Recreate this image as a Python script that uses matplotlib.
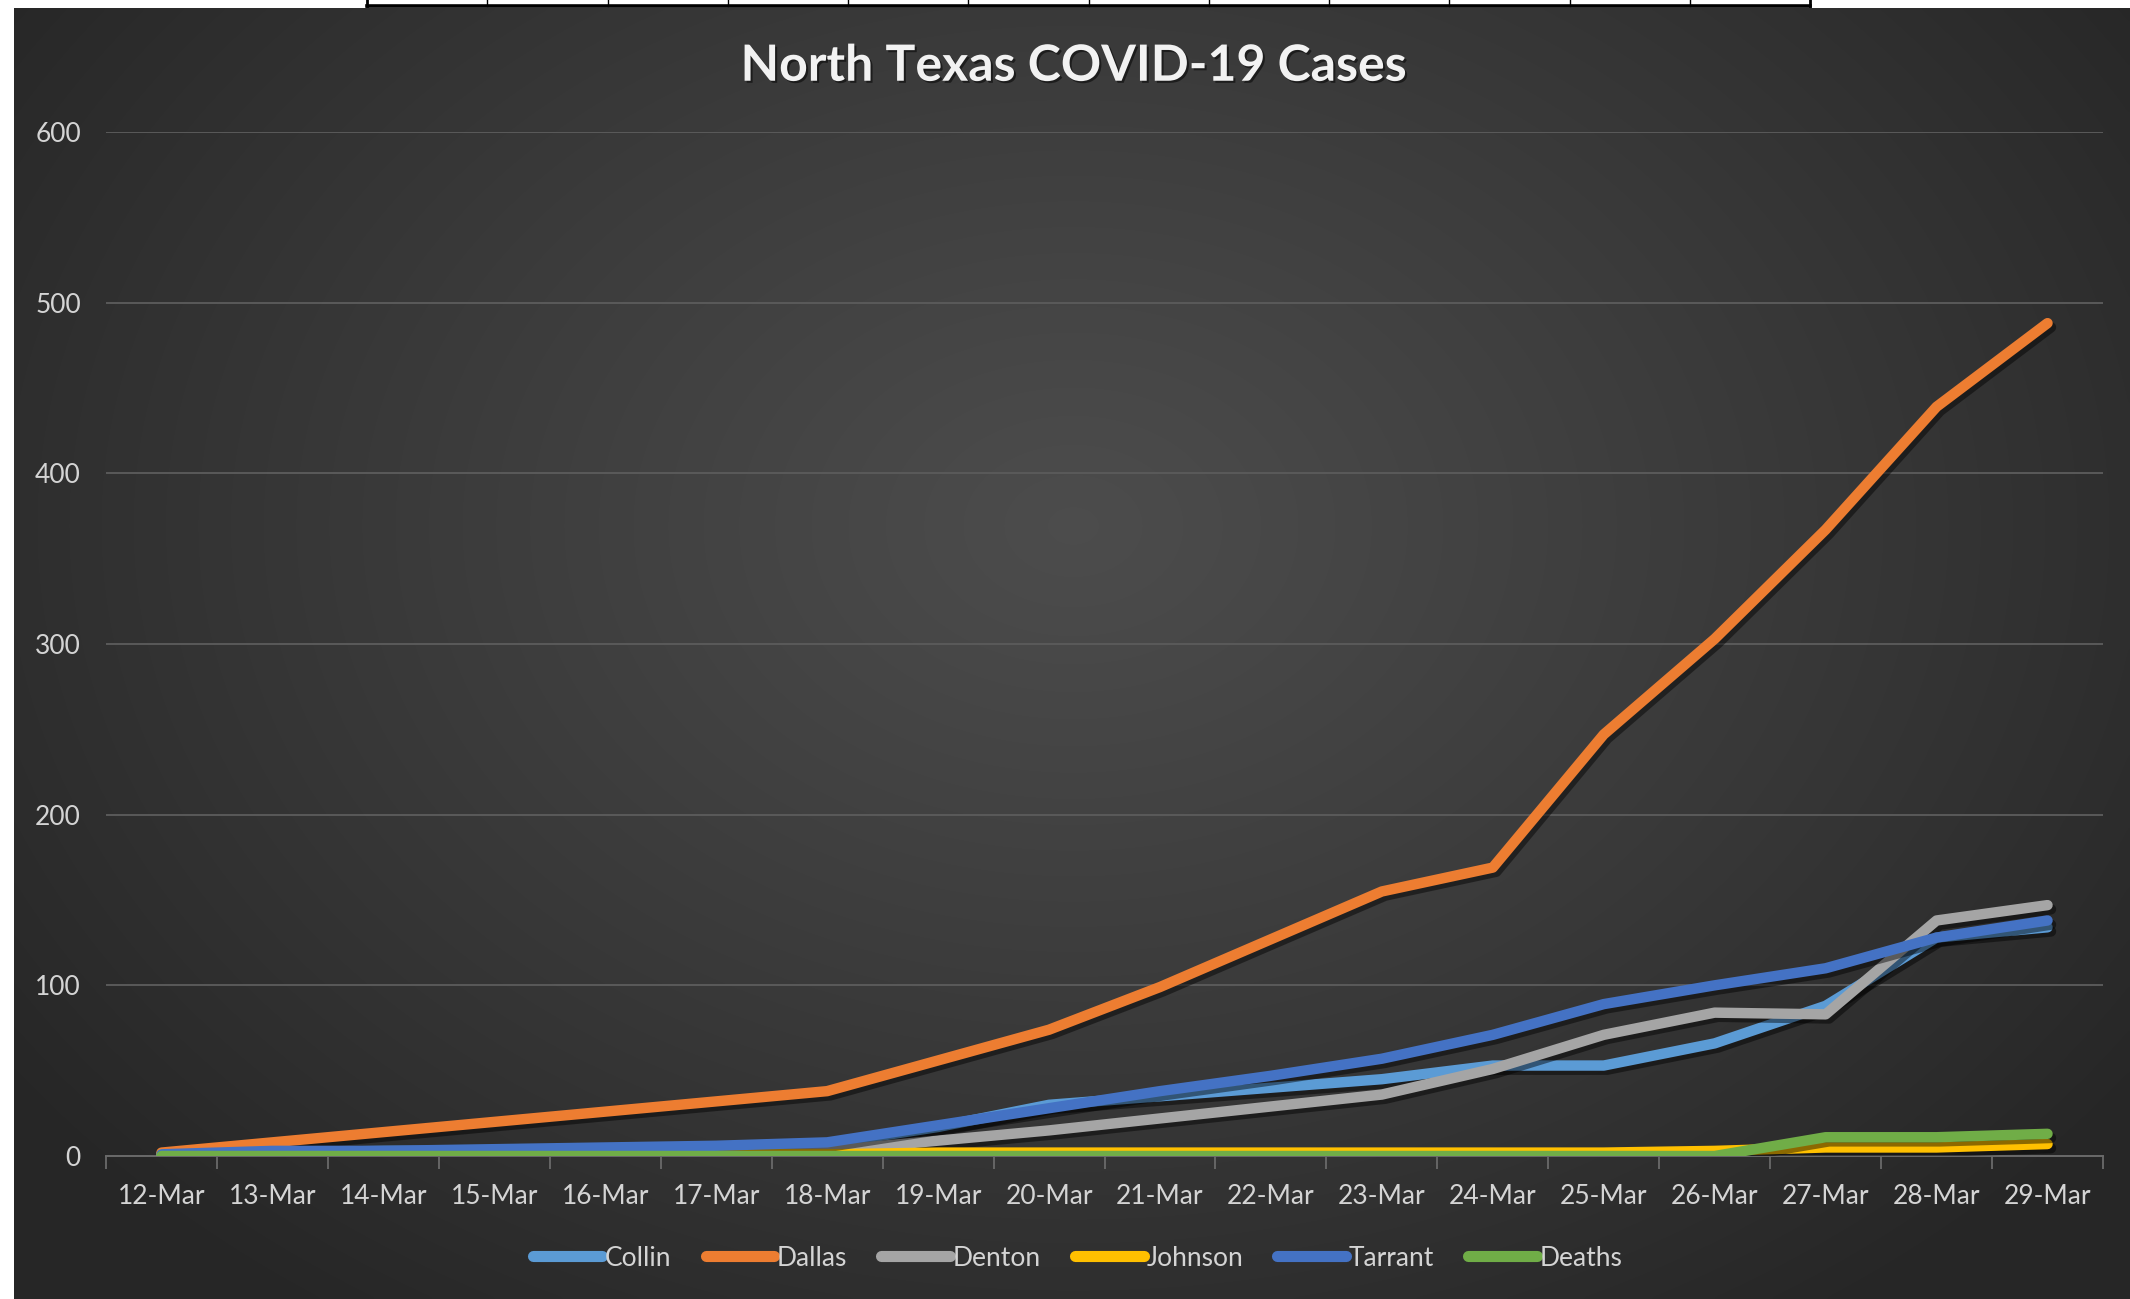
import numpy as np
import matplotlib
matplotlib.use("Agg")
import matplotlib.pyplot as plt
import matplotlib.patheffects as pe
from matplotlib.lines import Line2D

dates = ['12-Mar', '13-Mar', '14-Mar', '15-Mar', '16-Mar', '17-Mar', '18-Mar', '19-Mar', '20-Mar',
         '21-Mar', '22-Mar', '23-Mar', '24-Mar', '25-Mar', '26-Mar', '27-Mar', '28-Mar', '29-Mar']
collin = [1, 2, 3, 3, 4, 5, 7, 17, 30, 35, 40, 45, 53, 53, 66, 88, 128, 134]
dallas = [2, 8, 14, 20, 26, 32, 38, 56, 74, 99, 127, 155, 169, 247, 303, 367, 439, 488]
denton = [0, 0, 1, 1, 1, 2, 3, 9, 15, 22, 29, 36, 51, 71, 84, 83, 138, 147]
johnson = [1, 1, 1, 1, 1, 1, 1, 2, 2, 2, 2, 2, 2, 2, 3, 5, 5, 7]
tarrant = [1, 3, 3, 4, 5, 6, 8, 18, 28, 38, 47, 57, 71, 89, 100, 110, 128, 138]
deaths = [0, 0, 0, 0, 0, 0, 0, 0, 0, 0, 0, 0, 0, 0, 0, 11, 11, 13]

series_names = ['Collin', 'Dallas', 'Denton', 'Johnson', 'Tarrant', 'Deaths']
series_values = [collin, dallas, denton, johnson, tarrant, deaths]
series_colors = ['#5B9BD5', '#ED7D31', '#A5A5A5', '#FFC000', '#4472C4', '#70AD47']
yticks = [0, 100, 200, 300, 400, 500, 600]

plt.rcParams['font.family'] = ['Lato', 'DejaVu Sans']

W, H = 2130, 1299
fig = plt.figure(figsize=(W / 100, H / 100), dpi=100)
fig.patch.set_facecolor('white')

# background panel with radial gradient
px0, py0, px1, py1 = 14 / W, 0.0, 1.0, (H - 8) / H
bg = fig.add_axes([px0, py0, px1 - px0, py1 - py0])
bg.set_axis_off()
ny, nx = 400, 700
yy, xx = np.mgrid[0:ny, 0:nx]
cx, cy = 0.50 * nx, 0.40 * ny
d = np.sqrt(((xx - cx) / (0.62 * nx)) ** 2 + ((yy - cy) / (0.75 * ny)) ** 2)
d = np.clip(d, 0, 1)
c_in, c_out = 0.30, 0.150
val = c_in + (c_out - c_in) * d ** 1.1
img = np.dstack([val, val, val])
bg.imshow(img, aspect='auto', extent=[0, 1, 0, 1], origin='upper', interpolation='bicubic')
bg.set_xlim(0, 1)
bg.set_ylim(0, 1)

# top table remnant
tx0, tx1 = 367, 1810
fig.add_artist(Line2D([tx0 / W, tx1 / W], [1 - 5.5 / H, 1 - 5.5 / H], transform=fig.transFigure,
                      color='black', lw=2.6))
for k in range(13):
    xk = tx0 + k * (tx1 - tx0) / 12
    lw = 2.0 if k in (0, 12) else 1.0
    fig.add_artist(Line2D([xk / W, xk / W], [1.0, 1 - 6 / H], transform=fig.transFigure,
                          color='black', lw=lw))

# main axes
ax_l, ax_r = 106 / W, 2103 / W
ax_b, ax_t = 1 - 1156 / H, 1 - 132 / H
ax = fig.add_axes([ax_l, ax_b, ax_r - ax_l, ax_t - ax_b])
ax.set_facecolor('none')
x = np.arange(len(dates))

for name, vals, col in zip(series_names, series_values, series_colors):
    ax.plot(x, vals, color=col, lw=7.5, label=name, solid_capstyle='round',
            solid_joinstyle='round', zorder=3,
            path_effects=[pe.SimpleLineShadow(offset=(2.5, -3), shadow_color='black', alpha=0.45),
                          pe.Normal()])

ax.set_xlim(-0.5, len(dates) - 0.5)
ax.set_ylim(0, 600)
ax.set_yticks(yticks)
ax.set_yticklabels([str(v) for v in yticks])
for v in yticks[1:]:
    ax.axhline(v, color='#5a5a5a', lw=1.4, zorder=1)

ax.set_xticks(x)
ax.set_xticklabels(dates)
ax.set_xticks(np.arange(-0.5, len(dates), 1.0), minor=True)
ax.tick_params(axis='x', which='major', length=0, pad=20, labelsize=19, labelcolor='#d4d4d4')
ax.tick_params(axis='x', which='minor', length=9, width=1.3, color='#6a6a6a', direction='out')
ax.tick_params(axis='y', length=0, pad=18, labelsize=19, labelcolor='#d4d4d4')

for s in ['top', 'right', 'left']:
    ax.spines[s].set_visible(False)
ax.spines['bottom'].set_color('#6a6a6a')
ax.spines['bottom'].set_linewidth(1.4)

fig.text(0.504, 0.949, 'North Texas COVID-19 Cases', ha='center', va='center',
         fontsize=36, fontweight='bold', color='#f2f2f2',
         path_effects=[pe.withSimplePatchShadow(offset=(1.5, -1.5), shadow_rgbFace='black', alpha=0.5)])

handles = [Line2D([0], [0], color=c, lw=8, solid_capstyle='round') for c in series_colors]
leg = fig.legend(handles, series_names, loc='center', bbox_to_anchor=(1078 / W, 1 - 1258 / H),
                 ncol=6, frameon=False, fontsize=19, handlelength=2.6, handletextpad=0.1,
                 columnspacing=1.3, labelcolor='#d4d4d4')

fig.savefig('out.png', dpi=100, facecolor=fig.get_facecolor())
